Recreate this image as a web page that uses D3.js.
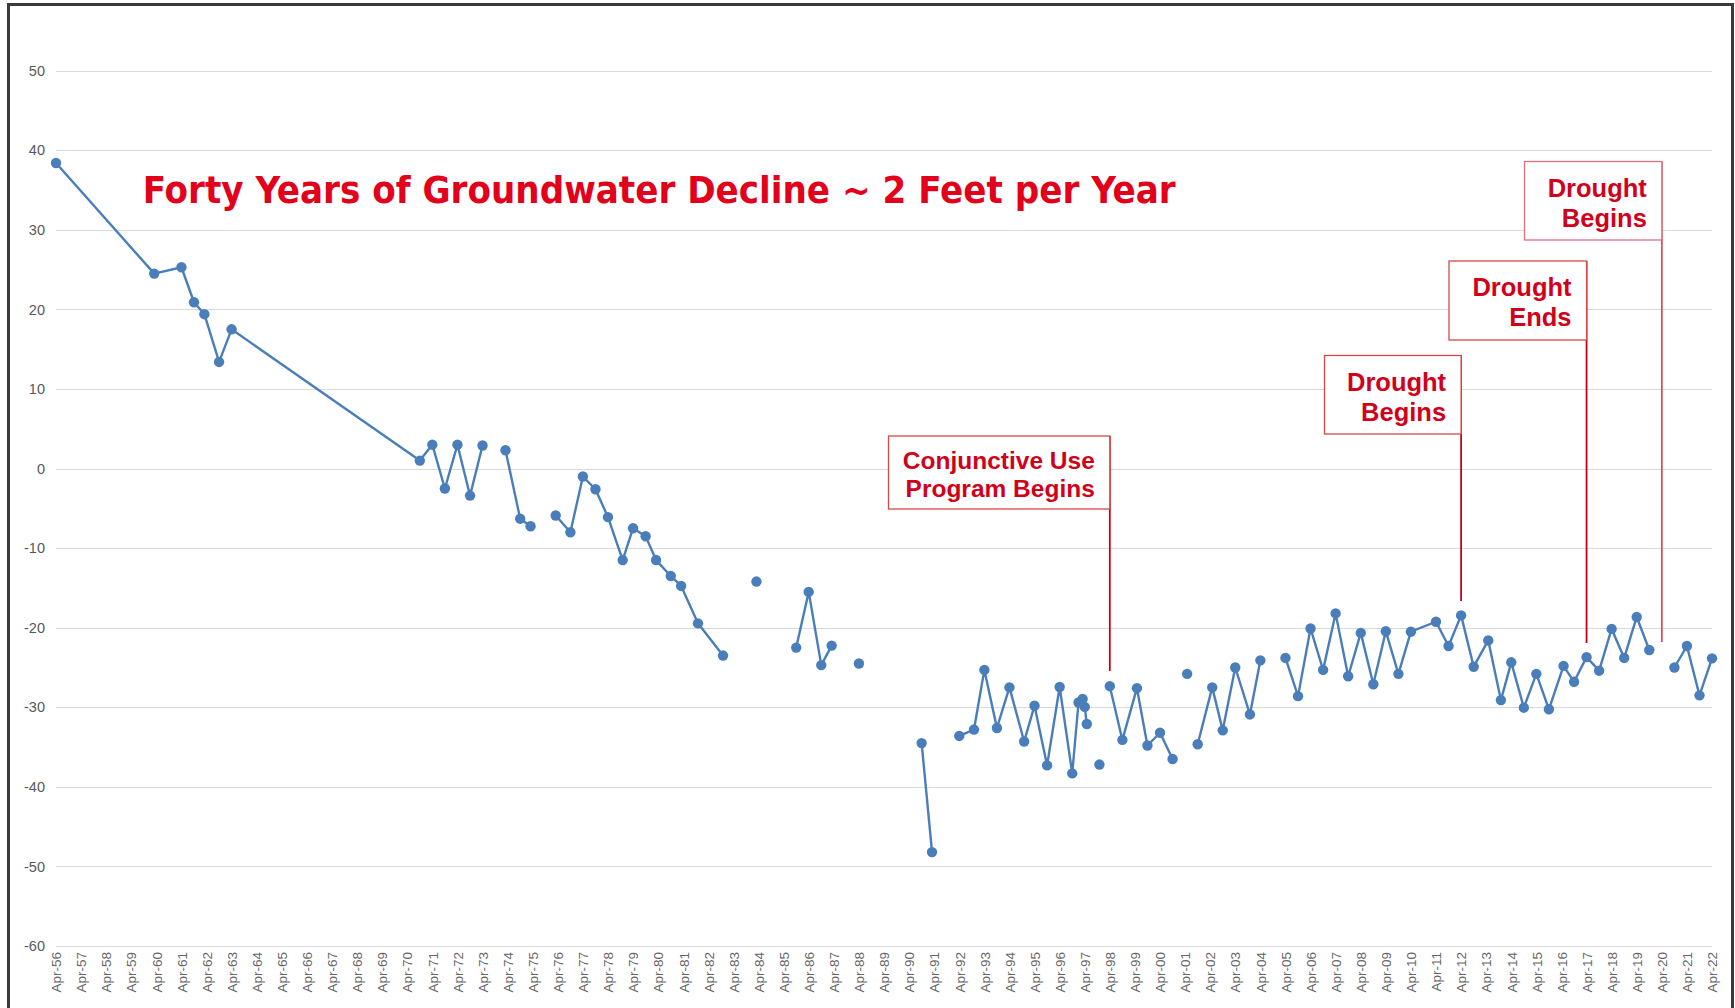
<!DOCTYPE html>
<html>
<head>
<meta charset="utf-8">
<script src="https://cdn.jsdelivr.net/npm/d3@7"></script>
<style>
  html, body { margin: 0; padding: 0; background: #fff; }
  svg { display: block; }
</style>
</head>
<body>
<div id="chart"></div>
<script>
// Groundwater level readings (feet), one entry per measurement
const dates = [
  "1956-04", "1960-03", "1961-04", "1961-10", "1962-03", "1962-10", "1963-04",
  "1970-10", "1971-04", "1971-10", "1972-04", "1972-10", "1973-04",
  "1974-03", "1974-10", "1975-03",
  "1976-03", "1976-10", "1977-04", "1977-10", "1978-04", "1978-11", "1979-04",
  "1979-10", "1980-03", "1980-10", "1981-03", "1981-11", "1982-11",
  "1984-03",
  "1985-10", "1986-04", "1986-10", "1987-03",
  "1988-04",
  "1990-10", "1991-03",
  "1992-04", "1992-11", "1993-04", "1993-10", "1994-04", "1994-11", "1995-04",
  "1995-10", "1996-04", "1996-10", "1997-01", "1997-03", "1997-04", "1997-05",
  "1997-11",
  "1998-04", "1998-10", "1999-05", "1999-10", "2000-04", "2000-10",
  "2001-05",
  "2001-10", "2002-05", "2002-10", "2003-04", "2003-11", "2004-04",
  "2005-04", "2005-10", "2006-04", "2006-10", "2007-04", "2007-10", "2008-04",
  "2008-10", "2009-04", "2009-10", "2010-04", "2011-04", "2011-10", "2012-04",
  "2012-10", "2013-05", "2013-11", "2014-04", "2014-10", "2015-04", "2015-10",
  "2016-05", "2016-10", "2017-04", "2017-10", "2018-04", "2018-10", "2019-04",
  "2019-10",
  "2020-10", "2021-04", "2021-10", "2022-04"
];
const levels = [
  38.4, 24.5, 25.3, 20.9, 19.4, 13.4, 17.5,
  1.0, 3.0, -2.5, 3.0, -3.4, 2.9,
  2.3, -6.3, -7.25,
  -5.9, -8.0, -1.0, -2.6, -6.1, -11.5, -7.5,
  -8.5, -11.5, -13.5, -14.75, -19.45, -23.5,
  -14.2,
  -22.5, -15.5, -24.7, -22.25,
  -24.5,
  -34.5, -48.2,
  -33.6, -32.8, -25.3, -32.6, -27.5, -34.3, -29.8,
  -37.3, -27.45, -38.3, -29.4, -28.95, -29.95, -32.1,
  -37.2,
  -27.35, -34.1, -27.6, -34.8, -33.2, -36.5,
  -25.8,
  -34.65, -27.5, -32.9, -25.0, -30.9, -24.1,
  -23.8, -28.6, -20.1, -25.3, -18.2, -26.1, -20.65,
  -27.1, -20.45, -25.8, -20.5, -19.25, -22.3, -18.45,
  -24.9, -21.6, -29.1, -24.35, -30.05, -25.8, -30.25,
  -24.8, -26.8, -23.7, -25.4, -20.15, -23.8, -18.65,
  -22.8,
  -25.0, -22.3, -28.5, -23.85
];
// readings that start a new line piece (gaps in the record)
const breaksBefore = [
  "1974-03", "1976-03", "1984-03", "1985-10", "1988-04", "1990-10", "1992-04",
  "1997-11", "1998-04", "2001-05", "2001-10", "2005-04", "2020-10"
];

const yTicks = [-60, -50, -40, -30, -20, -10, 0, 10, 20, 30, 40, 50];
const firstYear = 1956;
const lastYear = 2022;

const titleText = "Forty Years of Groundwater Decline ~ 2 Feet per Year";
const eventDates = ["1998-04", "2012-04", "2017-04", "2020-04"];
const eventLabels = [
  ["Conjunctive Use", "Program Begins"],
  ["Drought", "Begins"],
  ["Drought", "Ends"],
  ["Drought", "Begins"]
];

// callout box layout (pixels)
const callouts = [
  { left: 888.5, top: 436, height: 73, lineEnd: 671, size: 24.5, first: 33, second: 61 },
  { left: 1324.5, top: 355.5, height: 78.5, lineEnd: 601, size: 25.5, first: 35, second: 65 },
  { left: 1449, top: 261, height: 79, lineEnd: 643, size: 25.5, first: 35, second: 65 },
  { left: 1524.5, top: 161.5, height: 78.5, lineEnd: 642, size: 25.5, first: 35, second: 65 }
];

const width = 1735;
const height = 1008;
const parse = d3.timeParse("%Y-%m");

const readings = dates.map((d, i) => ({ date: parse(d), value: levels[i] }));
let seg = 0;
readings.forEach((r, i) => {
  if (breaksBefore.includes(dates[i])) seg++;
  r.seg = seg;
});

const svg = d3
  .select("#chart")
  .append("svg")
  .attr("width", width)
  .attr("height", height);

const x = d3
  .scaleTime()
  .domain([new Date(firstYear, 3, 1), new Date(lastYear, 3, 1)])
  .range([56, 1712]);

const y = d3.scaleLinear().domain([-60, 50]).range([946, 70.7]);

// outer frame (left, top, right)
svg
  .append("path")
  .attr("d", `M8.5,${height} V4.5 H1732.5 V${height}`)
  .attr("fill", "none")
  .attr("stroke", "#3a3a3a")
  .attr("stroke-width", 3);

// gridlines
svg
  .append("g")
  .selectAll("line")
  .data(yTicks)
  .enter()
  .append("line")
  .attr("x1", x.range()[0])
  .attr("x2", x.range()[1])
  .attr("y1", (d) => Math.round(y(d)) + 0.5)
  .attr("y2", (d) => Math.round(y(d)) + 0.5)
  .attr("stroke", "#d9d9d9")
  .attr("stroke-width", 1);

// y axis labels
const yAxis = svg
  .append("g")
  .attr("transform", `translate(${x.range()[0] - 11},0)`)
  .call(
    d3
      .axisLeft(y)
      .tickValues(yTicks)
      .tickSize(0)
      .tickPadding(0)
      .tickFormat((d) => String(d))
  );
yAxis.select(".domain").remove();
yAxis
  .selectAll("text")
  .attr("font-family", "'Liberation Sans', Arial, sans-serif")
  .attr("font-size", 14.5)
  .attr("fill", "#595959");

// x axis labels, one per April
const yearTicks = d3.range(firstYear, lastYear + 1).map((yr) => new Date(yr, 3, 1));
const xAxis = svg
  .append("g")
  .attr("transform", `translate(0,${y(-60)})`)
  .call(
    d3
      .axisBottom(x)
      .tickValues(yearTicks)
      .tickSize(0)
      .tickFormat(d3.timeFormat("%b-%y"))
  );
xAxis.select(".domain").remove();
xAxis
  .selectAll("text")
  .attr("font-family", "'Liberation Sans', Arial, sans-serif")
  .attr("font-size", 13.5)
  .attr("fill", "#666")
  .attr("text-anchor", "end")
  .attr("transform", "rotate(-90)")
  .attr("x", -6)
  .attr("y", 0)
  .attr("dy", "0.35em");

// event callouts
callouts.forEach((c, i) => {
  const right = x(parse(eventDates[i]));
  const g = svg.append("g");
  g.append("line")
    .attr("x1", right)
    .attr("x2", right)
    .attr("y1", c.top)
    .attr("y2", c.lineEnd)
    .attr("stroke", i === 3 ? "#d9505f" : "#c4001c")
    .attr("stroke-width", 1.8);
  g.append("rect")
    .attr("x", c.left)
    .attr("y", c.top)
    .attr("width", right - c.left)
    .attr("height", c.height)
    .attr("fill", "#fff")
    .attr("stroke", i === 3 ? "#e07080" : "#d24a4a")
    .attr("stroke-width", 1.3);
  eventLabels[i].forEach((t, k) => {
    g.append("text")
      .attr("x", right - 15)
      .attr("y", c.top + (k === 0 ? c.first : c.second))
      .attr("text-anchor", "end")
      .attr("font-family", "'Liberation Sans', Arial, sans-serif")
      .attr("font-weight", "bold")
      .attr("font-size", c.size)
      .attr("fill", "#d0021b")
      .text(t);
  });
});

// title
svg
  .append("text")
  .attr("x", 142.7)
  .attr("y", 202.5)
  .attr("font-family", "'DejaVu Sans Condensed', 'DejaVu Sans', sans-serif")
  .attr("font-stretch", "condensed")
  .attr("font-weight", "bold")
  .attr("font-size", 37.5)
  .attr("fill", "#e2001a")
  .attr("textLength", 1033)
  .attr("lengthAdjust", "spacingAndGlyphs")
  .text(titleText);

// groundwater series
const line = d3
  .line()
  .x((d) => x(d.date))
  .y((d) => y(d.value));

const pieces = d3.groups(readings, (d) => d.seg);
svg
  .append("g")
  .selectAll("path")
  .data(pieces)
  .enter()
  .append("path")
  .attr("d", (d) => line(d[1]))
  .attr("fill", "none")
  .attr("stroke", "#4a7ebb")
  .attr("stroke-width", 2.4)
  .attr("stroke-linejoin", "round");

svg
  .append("g")
  .selectAll("circle")
  .data(readings)
  .enter()
  .append("circle")
  .attr("cx", (d) => x(d.date))
  .attr("cy", (d) => y(d.value))
  .attr("r", 5.2)
  .attr("fill", "#4a7ebb");
</script>
</body>
</html>
